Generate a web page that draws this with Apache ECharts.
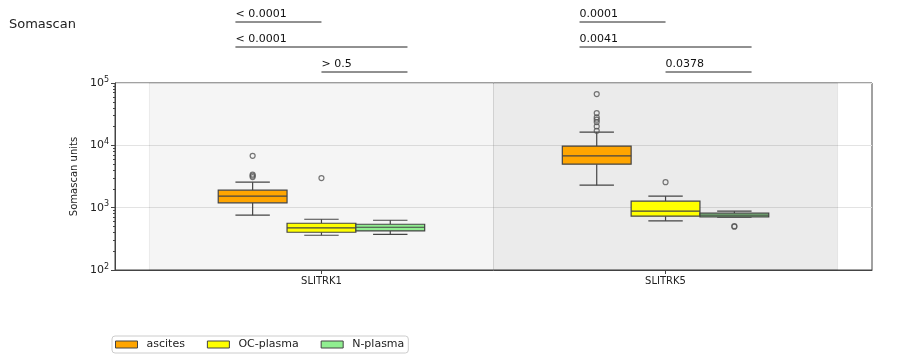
<!DOCTYPE html>
<html>
<head>
<meta charset="utf-8">
<script src="https://cdn.jsdelivr.net/npm/echarts@6/dist/echarts.min.js"></script>
<style>html,body{margin:0;padding:0;background:#fff}#c{width:918px;height:360px}</style>
</head>
<body>
<div id="c"></div>
<script>
const categories = ['SLITRK1', 'SLITRK5'];
const groups = ['ascites', 'OC-plasma', 'N-plasma'];
const groupColors = ['#FFA500', '#FFFF00', '#90EE90'];
// [low whisker, Q1, median, Q3, high whisker] per category
const ascitesBox = [[757, 1194, 1528, 1910, 2566], [2296, 4990, 6790, 9730, 16330]];
const ocPlasmaBox = [[361, 403, 473, 562, 652], [613, 730, 877, 1270, 1528]];
const nPlasmaBox = [[374, 424, 485, 542, 628], [706, 711, 757, 815, 877]];
// outliers per category
const ascitesOut = [[6790, 3400, 3250, 3100], [66500, 32960, 28050, 25760, 23600, 20090, 17140]];
const ocPlasmaOut = [[2979], [2566]];
const nPlasmaOut = [[], [505, 495]];
// pairwise p-value annotations per category (pairs: a-OC, a-N, OC-N)
const pLabels = [['< 0.0001', '< 0.0001', '> 0.5'], ['0.0001', '0.0041', '0.0378']];
const yMajorTicks = [100, 1000, 10000, 100000];
const yMinorTicks = [200, 300, 400, 500, 600, 700, 800, 900, 2000, 3000, 4000, 5000, 6000, 7000, 8000, 9000, 20000, 30000, 40000, 50000, 60000, 70000, 80000, 90000];

const boxSets = [ascitesBox, ocPlasmaBox, nPlasmaBox];
const outSets = [ascitesOut, ocPlasmaOut, nPlasmaOut];
const offsets = [-0.2, 0, 0.2];
const boxW = 0.2, capW = 0.1;
const FONT = 'DejaVu Sans';
const EDGE = '#444';

const chart = echarts.init(document.getElementById('c'));

function renderBox(params, api) {
  const x = api.value(0);
  const lo = api.value(1), q1 = api.value(2), md = api.value(3), q3 = api.value(4), hi = api.value(5);
  const pL = api.coord([x - boxW / 2, q3]);
  const pR = api.coord([x + boxW / 2, q1]);
  const c = api.coord([x, md]);
  const pHi = api.coord([x, hi]);
  const pLo = api.coord([x, lo]);
  const capL = api.coord([x - capW / 2, hi])[0];
  const capR = api.coord([x + capW / 2, hi])[0];
  const ln = { stroke: EDGE, lineWidth: 1.2 };
  return {
    type: 'group',
    children: [
      { type: 'line', shape: { x1: c[0], y1: pHi[1], x2: c[0], y2: pL[1] }, style: ln },
      { type: 'line', shape: { x1: c[0], y1: pR[1], x2: c[0], y2: pLo[1] }, style: ln },
      { type: 'line', shape: { x1: capL, y1: pHi[1], x2: capR, y2: pHi[1] }, style: ln },
      { type: 'line', shape: { x1: capL, y1: pLo[1], x2: capR, y2: pLo[1] }, style: ln },
      { type: 'rect', shape: { x: pL[0], y: pL[1], width: pR[0] - pL[0], height: pR[1] - pL[1] },
        style: { fill: api.visual('color'), stroke: EDGE, lineWidth: 1.2 } },
      { type: 'line', shape: { x1: pL[0], y1: c[1], x2: pR[0], y2: c[1] }, style: ln }
    ]
  };
}

const series = [];
groups.forEach((g, gi) => {
  const data = categories.map((cat, ci) => [ci + offsets[gi]].concat(boxSets[gi][ci]));
  const s = {
    name: g, type: 'custom', renderItem: renderBox, data: data,
    encode: { x: 0, y: [1, 2, 3, 4, 5] },
    itemStyle: { color: groupColors[gi], borderColor: EDGE, borderWidth: 1 },
    z: 3, silent: true
  };
  if (gi === 0) {
    s.markArea = {
      silent: true,
      data: [
        [{ xAxis: -0.5, itemStyle: { color: 'rgba(0,0,0,0.04)', borderColor: 'rgba(0,0,0,0.07)', borderWidth: 1 } }, { xAxis: 0.5 }],
        [{ xAxis: 0.5, itemStyle: { color: 'rgba(0,0,0,0.078)', borderColor: 'rgba(0,0,0,0.07)', borderWidth: 1 } }, { xAxis: 1.5 }]
      ]
    };
  }
  series.push(s);
});
groups.forEach((g, gi) => {
  const pts = [];
  categories.forEach((cat, ci) => outSets[gi][ci].forEach(v => pts.push([ci + offsets[gi], v])));
  series.push({
    name: g + ' outliers', type: 'scatter', data: pts, symbol: 'circle', symbolSize: 5,
    itemStyle: { color: 'rgba(255,255,255,0)', borderColor: '#555', borderWidth: 1.2 },
    z: 4, silent: true
  });
});

chart.setOption({
  animation: false,
  textStyle: { fontFamily: FONT },
  title: { text: 'Somascan', left: 4, top: 13, textStyle: { fontFamily: FONT, fontSize: 13, fontWeight: 'normal', color: '#222' } },
  grid: { left: 115, right: 46, top: 83, bottom: 90, show: true, borderColor: '#444', borderWidth: 1, backgroundColor: 'transparent' },
  legend: {
    left: 112, top: 336, orient: 'horizontal', padding: [3, 4, 3, 3],
    data: groups.map((g, gi) => ({ name: g, icon: 'rect', itemStyle: { color: groupColors[gi], borderColor: '#444', borderWidth: 1 } })),
    itemWidth: 22, itemHeight: 7, itemGap: 22,
    borderColor: '#ccc', borderWidth: 1, borderRadius: 3,
    textStyle: { fontFamily: FONT, fontSize: 11, color: '#222', padding: [0, 0, 0, 4] },
    selectedMode: false
  },
  xAxis: {
    type: 'value', min: -0.6, max: 1.6,
    axisLine: { show: true, onZero: false, lineStyle: { color: '#444' } },
    axisTick: { show: true, length: 4, customValues: [0, 1], lineStyle: { color: '#444' } },
    axisLabel: { customValues: [0, 1], formatter: v => categories[Math.round(v)], fontSize: 10, color: '#222', margin: 6, fontFamily: FONT },
    splitLine: { show: false }
  },
  yAxis: [{
    type: 'log', logBase: 10, min: 100, max: 100000,
    name: 'Somascan units', nameLocation: 'middle', nameGap: 34, nameRotate: 90,
    nameTextStyle: { fontSize: 10, color: '#222', fontFamily: FONT },
    axisLine: { show: true, onZero: false, lineStyle: { color: '#444' } },
    axisTick: { show: true, length: 4, customValues: yMajorTicks, lineStyle: { color: '#444' } },
    axisLabel: {
      customValues: yMajorTicks,
      formatter: v => '10{s|' + Math.round(Math.log10(v)) + '}',
      fontSize: 11, color: '#222', margin: 6, fontFamily: FONT,
      rich: { s: { fontSize: 8, fontFamily: FONT, color: '#222', verticalAlign: 'top', padding: [0, 0, 7, 0] } }
    },
    splitLine: { show: true, lineStyle: { color: '#e3e3e3', width: 1 } }
  }, {
    type: 'log', logBase: 10, min: 100, max: 100000, position: 'left',
    axisLine: { show: false, onZero: false },
    axisTick: { show: true, length: 2, customValues: yMinorTicks, lineStyle: { color: '#444' } },
    axisLabel: { show: false },
    splitLine: { show: false }
  }],
  series: series
});

// p-value bracket annotations above plot
const pairs = [[-0.25, 0], [-0.25, 0.25], [0, 0.25]];
const lineYs = [22, 47, 72];
const graphics = [];
categories.forEach((cat, ci) => {
  pairs.forEach((pr, pi) => {
    const x1 = chart.convertToPixel({ xAxisIndex: 0 }, ci + pr[0]);
    const x2 = chart.convertToPixel({ xAxisIndex: 0 }, ci + pr[1]);
    graphics.push({ type: 'line', shape: { x1: x1, y1: lineYs[pi], x2: x2, y2: lineYs[pi] }, style: { stroke: '#222', lineWidth: 1 }, silent: true });
    graphics.push({ type: 'text', x: x1, y: lineYs[pi] - 8, style: { text: pLabels[ci][pi], fill: '#111', font: '11px "DejaVu Sans"', textVerticalAlign: 'middle', textAlign: 'left' }, silent: true });
  });
});
chart.setOption({ graphic: graphics });
</script>
</body>
</html>
